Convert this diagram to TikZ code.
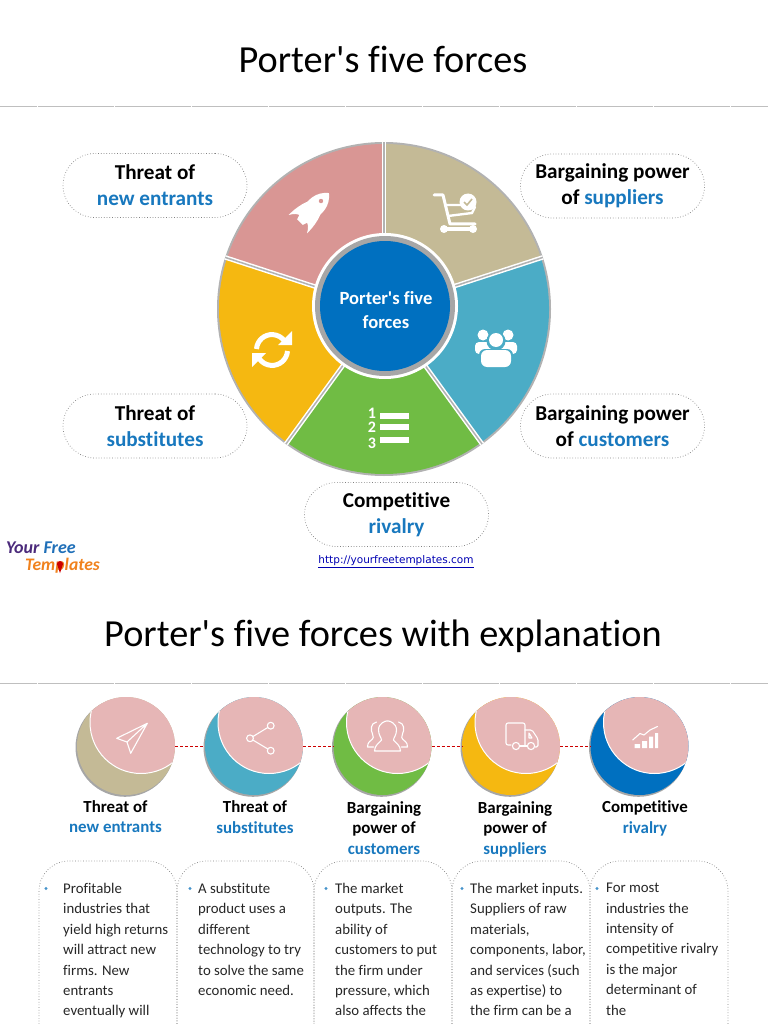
\documentclass[tikz,border=0pt]{standalone}
\usepackage{fontspec}
\defaultfontfeatures[\rmfamily]{}
\setmainfont{Carlito}[Ligatures=NoCommon]
\newfontfamily\linkfont{DejaVu Sans}
\usepackage{tikz}

\definecolor{rosewedge}{HTML}{D99694}
\definecolor{tanwedge}{HTML}{C4BA96}
\definecolor{tealwedge}{HTML}{4BACC6}
\definecolor{greenwedge}{HTML}{70BC44}
\definecolor{goldwedge}{HTML}{F5B811}
\definecolor{hubblue}{HTML}{0070C0}
\definecolor{petal}{HTML}{E6B6B6}
\definecolor{labelblue}{HTML}{1878BE}
\definecolor{bodytext}{HTML}{262626}

% one wedge of the wheel: colour, start angle, end angle
\newcommand{\wheelwedge}[3]{\fill[#1] (wheel) -- +(#2:165pt) arc[start angle=#2, end angle=#3, radius=165pt] -- cycle;}

\tikzset{
    callout/.style={draw=gray, dotted, line width=0.7pt, rounded corners=32pt, minimum width=184pt, minimum height=64pt, align=center, font=\fontsize{21.2}{26}\selectfont\bfseries},
    textcol/.style={draw=gray, dotted, line width=0.7pt, rounded corners=30pt},
    bodytxt/.style={anchor=north west, inner sep=0pt, align=left, text=bodytext, font=\fontsize{14.8}{20.4}\selectfont},
    headtxt/.style={align=center, font=\fontsize{16.9}{20.6}\selectfont\bfseries},
    crescent/.style={circle, inner sep=0pt, minimum size=98pt, fill=#1, path picture={\fill[petal, draw=white, line width=1pt] ([shift={(15pt,23.5pt)}]path picture bounding box.center) circle (51pt);}},
    rule/.style={gray!50, line width=0.8pt, dash pattern=on 76pt off 1pt, dash phase=39pt},
    icon/.style={white, line width=1.1pt, line join=round, line cap=round}
}

\begin{document}
\begin{tikzpicture}[x=1pt, y=-1pt]
    \path[use as bounding box, clip] (0,0) rectangle (768,1024);

    % First slide
    \node (titleA) at (383,59) {\fontsize{38.3}{42}\selectfont Porter's five forces};
    \draw[rule] (0,106) -- (768,106);

    % Wheel
    \coordinate (wheel) at (384,309);
    \fill[gray!60] (wheel) circle (167pt);
    \wheelwedge{tanwedge}{90}{18}
    \wheelwedge{tealwedge}{18}{-54}
    \wheelwedge{greenwedge}{-54}{-126}
    \wheelwedge{goldwedge}{-126}{-198}
    \wheelwedge{rosewedge}{-198}{-270}
    \foreach \a in {90,18,-54,-126,162} {
        \draw[white, line width=4.5pt] (wheel) -- +(\a:167pt);
        \draw[gray!60, line width=1.5pt] (wheel) -- +(\a:167pt);
    }
    \fill[white] (385,306) circle (73pt);
    \fill[gray!70] (385,306) circle (70pt);
    \fill[hubblue] (385,306) circle (65pt);
    \node[text=white, align=center, font=\fontsize{18.6}{24}\selectfont\bfseries] (hub) at (386,310) {Porter's five\\forces};

    % Rocket
    \begin{scope}[shift={(312,210)}, rotate=-45]
        \fill[white] (0,-24) .. controls (10,-16) and (11,-4) .. (7,8) -- (4,17) -- (-4,17) -- (-7,8) .. controls (-11,-4) and (-10,-16) .. (0,-24) -- cycle;
        \fill[white] (-9,-3) .. controls (-12,4) and (-13,12) .. (-13,20) .. controls (-10,15) and (-8,13) .. (-4,12) -- cycle;
        \fill[white] (9,-3) .. controls (12,4) and (13,12) .. (13,20) .. controls (10,15) and (8,13) .. (4,12) -- cycle;
        \fill[rosewedge] (0,-12.7) circle (2.2pt);
    \end{scope}
    % Cart
    \begin{scope}[shift={(455,213)}]
        \draw[white, line width=3pt, line cap=round, line join=round] (-21,-18) -- (-12,-18) -- (-5,11) -- (20,11);
        \draw[white, line width=2.4pt, line cap=round] (-10,-8) -- (6,-8) (-7,3) -- (17,0) -- (20,-6);
        \draw[white, line width=4pt, line cap=round] (-12,16) -- (18,16);
        \fill[white] (-11,16) circle (4pt) (18,16) circle (4pt);
        \fill[white] (13,-11) circle (8.5pt);
        \draw[tanwedge, line width=1.6pt] (9,-11) -- (12,-8) -- (17,-14);
    \end{scope}
    % Arrows going round
    \begin{scope}[shift={(272,350)}]
        \draw[white, line width=5pt] (-15.5,-1) arc[start angle=176, end angle=35, radius=15.5pt];
        \draw[white, line width=5pt] (15.5,1) arc[start angle=-4, end angle=-145, radius=15.5pt];
        \fill[white] (20,-19) -- (20,-5) -- (6,-5) -- cycle;
        \fill[white] (-20,17) -- (-20,3) -- (-6,3) -- cycle;
    \end{scope}
    % Group of people
    \begin{scope}[shift={(496,347)}]
        \fill[white] (-13,-12) circle (5.5pt) (12,-12) circle (5.5pt);
        \fill[white, rounded corners=4pt] (-21,7) -- (-21,-5) -- (21,-5) -- (21,7) -- cycle;
        \fill[tealwedge] (0,-6) circle (9.5pt);
        \fill[tealwedge, rounded corners=6pt] (-17,21) -- (-17,2) -- (17,2) -- (17,21) -- cycle;
        \fill[white] (0,-7) circle (7pt);
        \fill[white, rounded corners=6pt] (-15,20) -- (-15,3) -- (15,3) -- (15,20) -- cycle;
    \end{scope}
    % Numbered list
    \foreach \n/\yy/\yb in {1/413/415.5,2/427.7/427,3/443/439.5} {
        \node[text=white, inner sep=0pt, font=\fontsize{16}{16}\selectfont\bfseries] (num\n) at (372,\yy) {\n};
        \fill[white] (380,\yb-3) rectangle (409,\yb+3);
    }

    % Callouts round the wheel
    \node[callout] (entrants) at (155,185.5) {Threat of\\\textcolor{labelblue}{new entrants}};
    \node[callout] (suppliers) at (612.5,186) {Bargaining power\\of \textcolor{labelblue}{suppliers}};
    \node[callout] (substitutes) at (155,426) {Threat of\\\textcolor{labelblue}{substitutes}};
    \node[callout] (customers) at (612.5,426) {Bargaining power\\of \textcolor{labelblue}{customers}};
    \node[callout] (rivalry) at (396.5,514.5) {Competitive\\\textcolor{labelblue}{rivalry}};

    % Logo and link
    \node[inner sep=0pt, anchor=west, font=\fontsize{18}{18}\selectfont\bfseries\itshape] (logoA) at (6,547.5) {\textcolor[HTML]{4B2A7B}{Your} \textcolor[HTML]{1F6FB8}{Free}};
    \node[inner sep=0pt, anchor=west, text={rgb,255:red,240;green,130;blue,30}, font=\fontsize{17.6}{18}\selectfont\bfseries\itshape] (logoB) at (25,566) {Templates};
    \fill[red!80!black] (60,573) -- (57,564) arc[start angle=180, end angle=0, radius=3pt] -- cycle;
    \node[inner sep=0pt, text=blue!70!black, font=\linkfont\fontsize{10.5}{12}\selectfont] (link) at (396,562) {\underline{http://yourfreetemplates.com}};

    % Second slide
    \node (titleB) at (383,636) {\fontsize{38.3}{42}\selectfont Porter's five forces with explanation};
    \draw[rule] (0,683) -- (768,683);

    \foreach \x in {126,254,382.5,511,639.5} {
        \fill[gray!70] (\x-1,747.3) circle (49.5pt);
    }
    \node[crescent=tanwedge] (planeA) at (126,746) {};
    \node[crescent=tealwedge] (shareA) at (254,746) {};
    \node[crescent=greenwedge] (groupA) at (382.5,746) {};
    \node[crescent=goldwedge] (truckA) at (511,746) {};
    \node[crescent=hubblue] (chartA) at (639.5,746) {};
    \foreach \a/\b in {planeA/shareA,shareA/groupA,groupA/truckA,truckA/chartA} {
        \draw[red!80!black, densely dashed, line width=0.8pt] (\a) -- (\b);
    }

    % Outline icons
    \draw[icon] (147.3,723.3) -- (116.7,738.3) -- (127,742) -- cycle (127,742) -- (130.7,753.3) -- (147.3,723.3);
    \draw[icon] (270.7,725.7) -- (250,738.3) -- (270.7,750.7);
    \filldraw[icon, fill=petal] (270.7,725.7) circle (3.4pt) (250,738.3) circle (3.4pt) (270.7,750.7) circle (3.4pt);
    \begin{scope}[shift={(387.5,736)}]
        \draw[icon] (-9,-6) .. controls (-9,-13) and (-2,-15) .. (-1,-15) -- (1,-15) .. controls (2,-15) and (9,-13) .. (9,-6) .. controls (9,-1) and (6,2) .. (6,4) .. controls (8,7) and (13,9) .. (13,15) -- (-13,15) .. controls (-13,9) and (-8,7) .. (-6,4) .. controls (-6,2) and (-9,-1) .. (-9,-6) -- cycle;
        \draw[icon] (-11,-14) .. controls (-17,-13) and (-17,-6) .. (-15,-2) .. controls (-14,1) and (-14,2) .. (-15,3) .. controls (-17,5) and (-20,6) .. (-20,11) -- (-14,11);
        \draw[icon] (11,-14) .. controls (17,-13) and (17,-6) .. (15,-2) .. controls (14,1) and (14,2) .. (15,3) .. controls (17,5) and (20,6) .. (20,11) -- (14,11);
    \end{scope}
    \draw[icon, rounded corners=2pt] (511,745) -- (506,745) -- (506,723) -- (525,723) -- (525,745);
    \draw[icon, rounded corners=1.5pt] (525,730) -- (532,730) -- (538,739) -- (538,747) -- (535,747);
    \draw[icon] (527,746) -- (520,746);
    \draw[icon] (516,746) circle (3.6pt) (531,746) circle (3.6pt) (529,733) -- (532,738) -- (529,738) -- cycle;
    \fill[white] (634.5,744) rectangle (640,748) (642,741) rectangle (647,748) (649,736.5) rectangle (653,748) (655,733) rectangle (658,748);
    \draw[icon] (632.7,740) -- (640,733.5) -- (644,735) -- (650,730) -- (657.5,726.5);

    % Headings
    \node[headtxt] (headA) at (115.5,816.5) {Threat of\\\textcolor{labelblue}{new entrants}};
    \node[headtxt] (headB) at (255,817) {Threat of\\\textcolor{labelblue}{substitutes}};
    \node[headtxt] (headC) at (384,828) {Bargaining\\power of\\\textcolor{labelblue}{customers}};
    \node[headtxt] (headD) at (515,829) {Bargaining\\power of\\\textcolor{labelblue}{suppliers}};
    \node[headtxt] (headE) at (645,818.5) {Competitive\\\textcolor{labelblue}{rivalry}};

    % Text columns, cut off at the page edge
    \foreach \xa/\xb in {39/177,177/314,314/452,452/590,590/728} {
        \draw[textcol] (\xa,1070) -- (\xa,861) -- (\xb,861) -- (\xb,1070);
    }
    \foreach \x in {46,190,326,462,597} {
        \fill[labelblue!80] (\x,888.5) circle (1.7pt);
    }
    \node[bodytxt] (bodyA) at (63,883) {Profitable\\industries that\\yield high returns\\will attract new\\firms. New\\entrants\\eventually will};
    \node[bodytxt] (bodyB) at (198,883) {A substitute\\product uses a\\different\\technology to try\\to solve the same\\economic need.};
    \node[bodytxt] (bodyC) at (335,883) {The market\\outputs. The\\ability of\\customers to put\\the firm under\\pressure, which\\also affects the};
    \node[bodytxt] (bodyD) at (470,883) {The market inputs.\\Suppliers of raw\\materials,\\components, labor,\\and services (such\\as expertise) to\\the firm can be a};
    \node[bodytxt] (bodyE) at (606,883) {For most\\industries the\\intensity of\\competitive rivalry\\is the major\\determinant of\\the};
\end{tikzpicture}
\end{document}
